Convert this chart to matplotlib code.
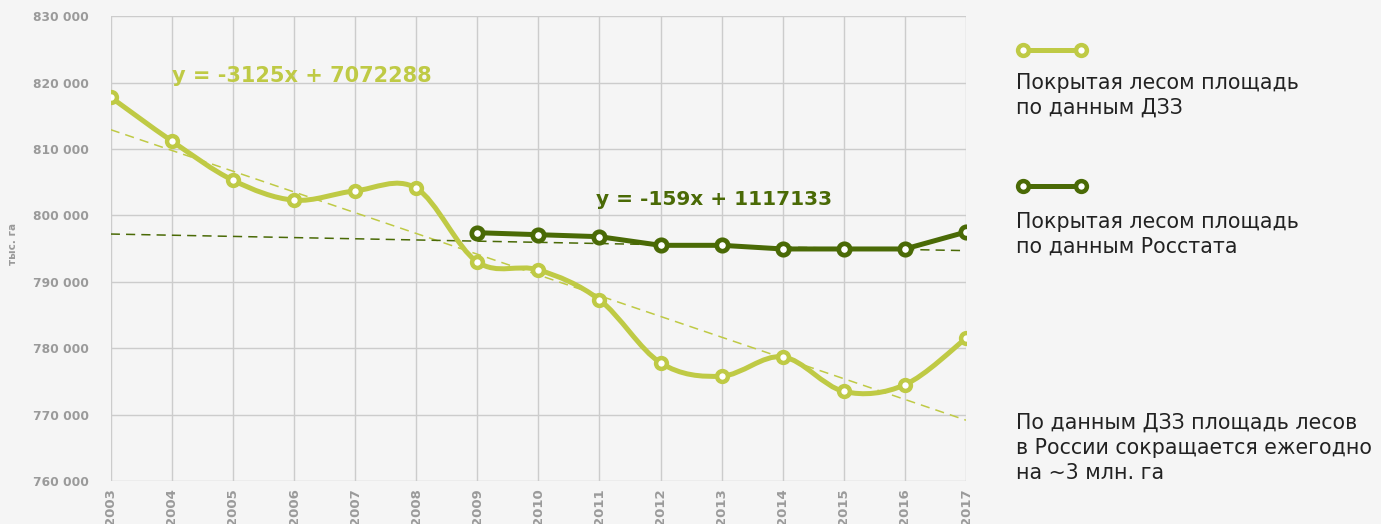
import numpy as np
import matplotlib.pyplot as plt
from matplotlib.path import Path
from matplotlib.patches import PathPatch

# --- Данные ---
years = np.arange(2003, 2018)
dzz = [817800, 811200, 805300, 802300, 803700, 804100, 793000, 791800,
       787300, 777800, 775800, 778700, 773500, 774500, 781500]
years_rs = np.arange(2009, 2018)
rosstat = [797400, 797100, 796800, 795500, 795500, 794950, 794950, 794950, 797500]

# тренды
dzz_slope, dzz_icept = -3125, 7072288
rs_trend_ends = [797200, 794700]   # значения тренда Росстата в 2003 и 2017

y_ticks = np.arange(760000, 830001, 10000)
y_labels = ['{:,}'.format(v).replace(',', ' ') for v in y_ticks]

c_light = '#bfca45'
c_dark = '#4a6a06'
c_grid = '#cccccc'
c_tick = '#9a9a9a'
bg = '#f5f5f5'

plt.rcParams['font.family'] = ['DejaVu Sans']


def smooth_path(x, y):
    # Безье через точки (как сглаженная линия в Excel)
    x = np.asarray(x, float)
    y = np.asarray(y, float)
    n = len(x)
    verts = [(x[0], y[0])]
    codes = [Path.MOVETO]
    for i in range(n - 1):
        i0 = max(i - 1, 0)
        i3 = min(i + 2, n - 1)
        c1 = (x[i] + (x[i + 1] - x[i0]) / 6, y[i] + (y[i + 1] - y[i0]) / 6)
        c2 = (x[i + 1] - (x[i3] - x[i]) / 6, y[i + 1] - (y[i3] - y[i]) / 6)
        verts += [c1, c2, (x[i + 1], y[i + 1])]
        codes += [Path.CURVE4] * 3
    return Path(verts, codes)


fig = plt.figure(figsize=(13.81, 5.24), dpi=100, facecolor=bg)
ax = fig.add_axes([0.0802, 0.082, 0.6193, 0.887])
ax.set_facecolor(bg)

# линии тренда
ax.plot(years, dzz_slope * years + dzz_icept, color=c_light, lw=1.1,
        dashes=(6, 4), zorder=2)
ax.plot([years[0], years[-1]], rs_trend_ends, color=c_dark, lw=1.1,
        dashes=(6, 4), zorder=2)

# ДЗЗ - сглаженная
ax.add_patch(PathPatch(smooth_path(years, dzz), fill=False, edgecolor=c_light,
                       lw=3.6, capstyle='round', zorder=3))
ax.plot(years, dzz, ls='none', marker='o', ms=7.8, mew=3.2, mfc='white',
        mec=c_light, zorder=4)

# Росстат
ax.plot(years_rs, rosstat, color=c_dark, lw=3.6, marker='o', ms=8.2, mew=3.4,
        mfc='white', mec=c_dark, zorder=5)

ax.set_xlim(2003, 2017)
ax.set_ylim(760000, 830000)
ax.set_xticks(years)
ax.set_xticklabels([str(y) for y in years], rotation=90, fontsize=9.5,
                   fontweight='bold', color=c_tick, va='top')
ax.set_yticks(y_ticks)
ax.set_yticklabels(y_labels, fontsize=8.8, fontweight='bold', color=c_tick)
ax.tick_params(length=0, pad=15.5)
ax.tick_params(axis='x', pad=5)
ax.grid(True, color=c_grid, lw=1)
for s in ax.spines.values():
    s.set_visible(False)
ax.set_ylabel('тыс. га', fontsize=7.5, fontweight='bold', color=c_tick)
ax.yaxis.set_label_coords(-0.109, 0.51)

ax.text(2004.0, 820100, 'y = -3125x + 7072288', fontsize=15, fontweight='bold',
        color=c_light, va='baseline', zorder=6)
ax.text(2010.95, 801500, 'y = -159x + 1117133', fontsize=14.5, fontweight='bold',
        color=c_dark, va='baseline', zorder=6)

# легенда справа
lx0, lx1 = 0.7405, 0.7825
for yl, col in [(0.904, c_light), (0.645, c_dark)]:
    fig.add_artist(plt.Line2D([lx0, lx1], [yl, yl], transform=fig.transFigure,
                              color=col, lw=3.6, marker='o', ms=7.8, mew=3.2,
                              mfc='white', mec=col))

txt_kw = dict(fontsize=14.8, color='#222222', va='center')
fig.text(0.7355, 0.818, 'Покрытая лесом площадь\nпо данным ДЗЗ',
         linespacing=1.33, **txt_kw)
fig.text(0.7355, 0.553, 'Покрытая лесом площадь\nпо данным Росстата',
         linespacing=1.33, **txt_kw)
fig.text(0.7355, 0.145, 'По данным ДЗЗ площадь лесов\nв России сокращается ежегодно\nна ~3 млн. га',
         linespacing=1.33, **txt_kw)

fig.savefig('out.png', dpi=100, facecolor=bg)
